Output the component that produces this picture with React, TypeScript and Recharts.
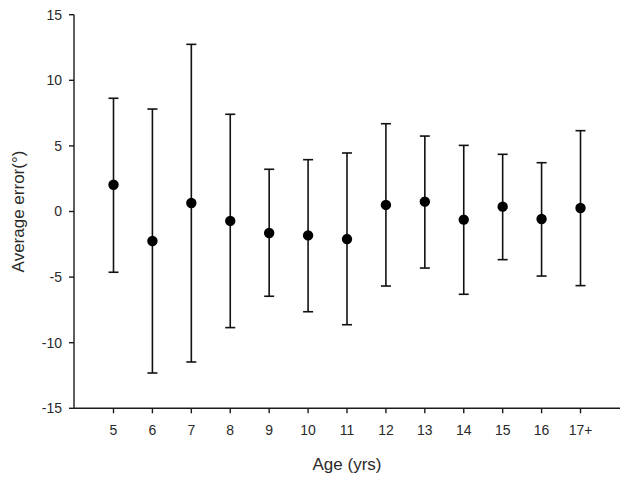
import { ComposedChart, Line, ErrorBar, XAxis, YAxis } from 'recharts';

const ages = ['5', '6', '7', '8', '9', '10', '11', '12', '13', '14', '15', '16', '17+'];
const meanError = [2.04, -2.25, 0.65, -0.72, -1.64, -1.82, -2.1, 0.5, 0.75, -0.62, 0.37, -0.57, 0.27];
const upperBound = [8.63, 7.81, 12.74, 7.41, 3.22, 3.95, 4.46, 6.69, 5.75, 5.04, 4.36, 3.72, 6.16];
const lowerBound = [-4.63, -12.31, -11.47, -8.85, -6.46, -7.64, -8.63, -5.68, -4.31, -6.31, -3.67, -4.92, -5.65];
const yTicks = [-15, -10, -5, 0, 5, 10, 15];

const data = ages.map((age, i) => ({
  age,
  mean: meanError[i],
  err: [meanError[i] - lowerBound[i], upperBound[i] - meanError[i]],
}));

const axisColor = '#1a1a1a';
const textColor = '#2a2a2a';
const font = 'Arial, "Liberation Sans", sans-serif';

export default function App() {
  return (
    <div style={{ position: 'absolute', left: 0, top: 0, width: 630, height: 481, background: '#fff' }}>
      <ComposedChart
        width={630}
        height={481}
        data={data}
        margin={{ top: 14.7, right: 10, bottom: 10.7, left: 8 }}
      >
        <XAxis
          dataKey="age"
          type="category"
          scale="point"
          padding={{ left: 39.5, right: 39.5 }}
          height={62}
          stroke={axisColor}
          strokeWidth={1.4}
          tickSize={5}
          tickMargin={12}
          tick={{ fill: textColor, fontSize: 14, fontFamily: font }}
          label={{
            value: 'Age (yrs)',
            position: 'insideBottom',
            offset: 0,
            fill: textColor,
            fontSize: 17,
            fontFamily: font,
          }}
        />
        <YAxis
          type="number"
          domain={[-15, 15]}
          ticks={yTicks}
          width={66}
          stroke={axisColor}
          strokeWidth={1.4}
          tickSize={5}
          tickMargin={7}
          tick={{ fill: textColor, fontSize: 14, fontFamily: font }}
          label={{
            value: 'Average error(°)',
            angle: -90,
            position: 'insideLeft',
            offset: 10,
            fill: textColor,
            fontSize: 17,
            fontFamily: font,
            style: { textAnchor: 'middle' },
          }}
        />
        <Line
          dataKey="mean"
          stroke="none"
          isAnimationActive={false}
          dot={{ r: 5.2, fill: '#000', stroke: '#000', strokeWidth: 0 }}
          activeDot={false}
        >
          <ErrorBar dataKey="err" direction="y" width={5} stroke="#111" strokeWidth={1.6} />
        </Line>
      </ComposedChart>
    </div>
  );
}
